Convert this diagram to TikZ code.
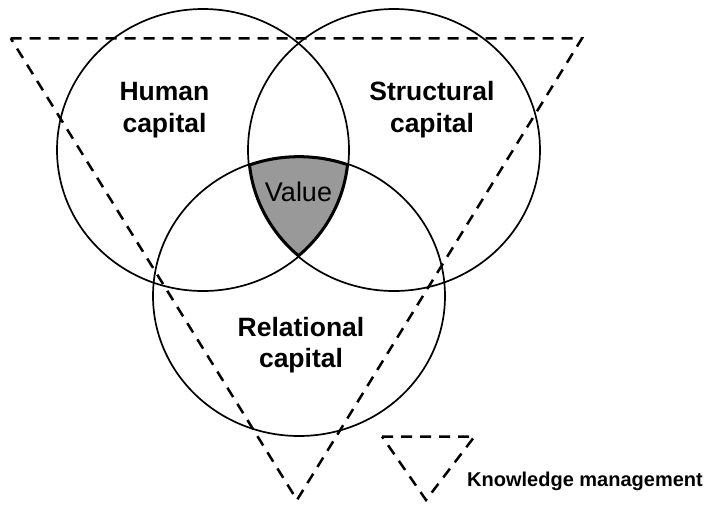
\documentclass[tikz,border=0pt]{standalone}
\usepackage{fontspec}
\setmainfont{Liberation Sans}
\begin{document}
\begin{tikzpicture}[x=1pt,y=-1pt,
  ring/.style={line width=1.7pt},
  kmline/.style={line width=2.5pt, dash pattern=on 11pt off 8pt, line join=miter},
  caplabel/.style={anchor=base, inner sep=0pt, font=\fontsize{26.5}{30}\selectfont\bfseries},
  valuelabel/.style={anchor=base, inner sep=0pt, font=\fontsize{27}{30}\selectfont},
  legendlabel/.style={anchor=base west, inner sep=0pt, font=\fontsize{20}{22}\selectfont\bfseries}]
\useasboundingbox (0,0) rectangle (707,504);
\definecolor{valuegray}{RGB}{153,153,153}
% circle centres
\coordinate (hc) at (203,150);
\coordinate (sc) at (394,150);
\coordinate (rc) at (299,296);
% value region
\begin{scope}
  \clip (hc) ellipse [x radius=146pt, y radius=141pt];
  \clip (sc) ellipse [x radius=146pt, y radius=141pt];
  \clip (rc) ellipse [x radius=146pt, y radius=140pt];
  \fill[valuegray] (rc) ellipse [x radius=146pt, y radius=140pt];
  \draw[line width=4.4pt] (hc) ellipse [x radius=146pt, y radius=141pt];
  \draw[line width=4.4pt] (sc) ellipse [x radius=146pt, y radius=141pt];
  \draw[line width=4.4pt] (rc) ellipse [x radius=146pt, y radius=140pt];
\end{scope}
% circles
\draw[ring] (hc) ellipse [x radius=146pt, y radius=141pt];
\draw[ring] (sc) ellipse [x radius=146pt, y radius=141pt];
\draw[ring] (rc) ellipse [x radius=146pt, y radius=140pt];
% knowledge management triangle
\coordinate (ta) at (10.7,38.3);
\coordinate (tb) at (582,38.3);
\coordinate (tc) at (297,500);
\draw[kmline] (ta) -- (tb) -- (tc) -- cycle;
% legend
\coordinate (la) at (382,436.5);
\coordinate (lb) at (474.5,436.5);
\coordinate (lc) at (426,500);
\draw[kmline] (la) -- (lb) -- (lc) -- cycle;
\node[legendlabel] (legend) at (467,486.7) {Knowledge management};
% labels
\node[caplabel] (human1) at (164.5,100) {Human};
\node[caplabel] (human2) at (164.5,132.3) {capital};
\node[caplabel] (struct1) at (432,100) {Structural};
\node[caplabel] (struct2) at (432,132.3) {capital};
\node[caplabel] (rel1) at (301,336.7) {Relational};
\node[caplabel] (rel2) at (301,367) {capital};
\node[valuelabel] (value) at (298.5,201) {Value};
\end{tikzpicture}
\end{document}
